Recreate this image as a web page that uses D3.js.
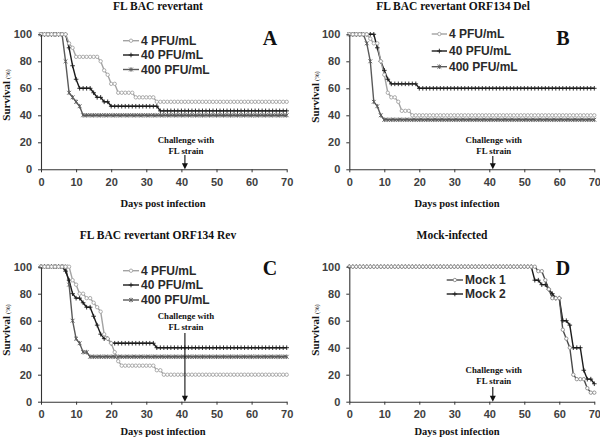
<!DOCTYPE html>
<html><head><meta charset="utf-8">
<script src="https://cdn.jsdelivr.net/npm/d3@7"></script>
<style>body{margin:0;background:#fff}svg{display:block}</style>
</head><body>
<svg id="c" width="600" height="439"></svg>
<script>
// ---------- data ----------
const days = d3.range(0, 71);
const xTicks = [0, 10, 20, 30, 40, 50, 60, 70];
const yTicks = [0, 20, 40, 60, 80, 100];
const challengeDay = 41;
const titles = ["FL BAC revertant", "FL BAC revertant ORF134 Del", "FL BAC revertant ORF134 Rev", "Mock-infected"];
const letters = ["A", "B", "C", "D"];
const doseNames = ["4 PFU/mL", "40 PFU/mL", "400 PFU/mL"];
const mockNames = ["Mock 1", "Mock 2"];
const challengeText = ["Challenge with", "FL strain"];
const xLabel = "Days post infection";

const a4 = [100,100,100,100,100,100,100,100,93.3,90,83.3,83.3,83.3,83.3,83.3,83.3,83.3,80,73.3,70,63.3,63.3,56.7,56.7,56.7,56.7,56.7,53.3,53.3,53.3,53.3,53.3,53.3,50,50,50,50,50,50,50,50,50,50,50,50,50,50,50,50,50,50,50,50,50,50,50,50,50,50,50,50,50,50,50,50,50,50,50,50,50,50];
const a40 = [100,100,100,100,100,100,100,100,90,76.7,66.7,60,60,60,60,56.7,53.3,53.3,50,50,46.7,46.7,46.7,46.7,46.7,46.7,46.7,46.7,46.7,46.7,46.7,46.7,46.7,46.7,43.3,43.3,43.3,43.3,43.3,43.3,43.3,43.3,43.3,43.3,43.3,43.3,43.3,43.3,43.3,43.3,43.3,43.3,43.3,43.3,43.3,43.3,43.3,43.3,43.3,43.3,43.3,43.3,43.3,43.3,43.3,43.3,43.3,43.3,43.3,43.3,43.3];
const a400 = [100,100,100,100,100,100,100,80,56.7,53.3,50,46.7,40,40,40,40,40,40,40,40,40,40,40,40,40,40,40,40,40,40,40,40,40,40,40,40,40,40,40,40,40,40,40,40,40,40,40,40,40,40,40,40,40,40,40,40,40,40,40,40,40,40,40,40,40,40,40,40,40,40,40];

const b4 = [100,100,100,100,100,100,96.7,93.3,93.3,80,70,56.7,53.3,53.3,50,43.3,43.3,43.3,40,40,40,40,40,40,40,40,40,40,40,40,40,40,40,40,40,40,40,40,40,40,40,40,40,40,40,40,40,40,40,40,40,40,40,40,40,40,40,40,40,40,40,40,40,40,40,40,40,40,40,40,40];
const b40 = [100,100,100,100,100,100,100,100,90,80,73.3,66.7,63.3,63.3,63.3,63.3,63.3,63.3,63.3,63.3,60,60,60,60,60,60,60,60,60,60,60,60,60,60,60,60,60,60,60,60,60,60,60,60,60,60,60,60,60,60,60,60,60,60,60,60,60,60,60,60,60,60,60,60,60,60,60,60,60,60,60];
const b400 = [100,100,100,100,100,93.3,80,50,46.7,40,36.7,36.7,36.7,36.7,36.7,36.7,36.7,36.7,36.7,36.7,36.7,36.7,36.7,36.7,36.7,36.7,36.7,36.7,36.7,36.7,36.7,36.7,36.7,36.7,36.7,36.7,36.7,36.7,36.7,36.7,36.7,36.7,36.7,36.7,36.7,36.7,36.7,36.7,36.7,36.7,36.7,36.7,36.7,36.7,36.7,36.7,36.7,36.7,36.7,36.7,36.7,36.7,36.7,36.7,36.7,36.7,36.7,36.7,36.7,36.7,36.7];

const c4 = [100,100,100,100,100,100,100,100,100,90,86.7,80,80,76.7,76.7,73.3,70,66.7,50,46.7,43.3,36.7,30,26.7,26.7,26.7,26.7,26.7,26.7,26.7,26.7,26.7,26.7,23.3,23.3,20,20,20,20,20,20,20,20,20,20,20,20,20,20,20,20,20,20,20,20,20,20,20,20,20,20,20,20,20,20,20,20,20,20,20,20];
const c40 = [100,100,100,100,100,100,100,96.7,90,80,76.7,76.7,73.3,70,70,63.3,56.7,50,46.7,46.7,43.3,43.3,43.3,43.3,43.3,43.3,43.3,43.3,43.3,43.3,43.3,43.3,43.3,40,40,40,40,40,40,40,40,40,40,40,40,40,40,40,40,40,40,40,40,40,40,40,40,40,40,40,40,40,40,40,40,40,40,40,40,40,40];
const c400 = [100,100,100,100,100,100,100,100,86.7,60,46.7,43.3,36.7,36.7,33.3,33.3,33.3,33.3,33.3,33.3,33.3,33.3,33.3,33.3,33.3,33.3,33.3,33.3,33.3,33.3,33.3,33.3,33.3,33.3,33.3,33.3,33.3,33.3,33.3,33.3,33.3,33.3,33.3,33.3,33.3,33.3,33.3,33.3,33.3,33.3,33.3,33.3,33.3,33.3,33.3,33.3,33.3,33.3,33.3,33.3,33.3,33.3,33.3,33.3,33.3,33.3,33.3,33.3,33.3,33.3,33.3];

const mock1 = [100,100,100,100,100,100,100,100,100,100,100,100,100,100,100,100,100,100,100,100,100,100,100,100,100,100,100,100,100,100,100,100,100,100,100,100,100,100,100,100,100,100,100,100,100,100,100,100,100,100,100,100,100,100,96.7,96.7,90,83.3,76.7,76.7,76.7,53.3,46.7,40,20,16.7,16.7,16.7,10,6.7,6.7];
const mock2 = [100,100,100,100,100,100,100,100,100,100,100,100,100,100,100,100,100,100,100,100,100,100,100,100,100,100,100,100,100,100,100,100,100,100,100,100,100,100,100,100,100,100,100,100,100,100,100,100,100,100,100,100,100,90,90,86.7,86.7,83.3,80,76.7,76.7,60,60,56.7,40,40,40,23.3,16.7,16.7,13.3];

// ---------- styles ----------
const styles = {
  circle: {stroke: "#a3a3a3", mark: "circle", mstroke: "#a3a3a3"},
  plus:   {stroke: "#1c1c1c", mark: "plus",   mstroke: "#1c1c1c"},
  star:   {stroke: "#5a5a5a", mark: "star",   mstroke: "#5a5a5a"},
  mock1:  {stroke: "#4a4a4a", mark: "circle", mstroke: "#8a8a8a"},
  mock2:  {stroke: "#1c1c1c", mark: "plus",   mstroke: "#1c1c1c"}
};

const panels = [
  {left:41, right:286.7, top:34.3, bottom:169.3, title:titles[0], titleX:158, titleY:10,
   letter:letters[0], letterX:270, letterY:45, xLabX:163, xLabY:206.5, yLabX:6, yLabY:95,
   legX1:123, legX2:139, legTextX:141, legRows:[40.7,55,69.5],
   annY:[143,153.5], arrTop:155,
   series:[{name:doseNames[0], v:a4, s:styles.circle},{name:doseNames[1], v:a40, s:styles.plus},{name:doseNames[2], v:a400, s:styles.star}]},
  {left:349.3, right:594.3, top:34.3, bottom:169.3, title:titles[1], titleX:453, titleY:10,
   letter:letters[1], letterX:563, letterY:45, xLabX:457, xLabY:206.5, yLabX:315, yLabY:97,
   legX1:431.7, legX2:447, legTextX:449, legRows:[34,51,66.7],
   annY:[143,153.5], arrTop:156,
   series:[{name:doseNames[0], v:b4, s:styles.circle},{name:doseNames[1], v:b40, s:styles.plus},{name:doseNames[2], v:b400, s:styles.star}]},
  {left:41, right:286.7, top:266.7, bottom:401.7, title:titles[2], titleX:158, titleY:239,
   letter:letters[2], letterX:270, letterY:275, xLabX:163, xLabY:435, yLabX:6, yLabY:330,
   legX1:123, legX2:139, legTextX:141, legRows:[270.7,285,300],
   annY:[319,329.5], arrTop:333,
   series:[{name:doseNames[0], v:c4, s:styles.circle},{name:doseNames[1], v:c40, s:styles.plus},{name:doseNames[2], v:c400, s:styles.star}]},
  {left:349.3, right:594.3, top:266.7, bottom:401.7, title:titles[3], titleX:452, titleY:239,
   letter:letters[3], letterX:563, letterY:275, xLabX:457, xLabY:435, yLabX:315, yLabY:330,
   legX1:446.7, legX2:463, legTextX:465, legRows:[280,294],
   annY:[373,384], arrTop:387,
   series:[{name:mockNames[0], v:mock1, s:styles.mock1},{name:mockNames[1], v:mock2, s:styles.mock2}]}
];

const svg = d3.select("#c");
const serif = "'Liberation Serif','Times New Roman',serif";
const sans = "'Liberation Sans',Arial,sans-serif";

function marker(g, type, cx, cy, st) {
  if (type === "circle") {
    g.append("circle").attr("cx", cx).attr("cy", cy).attr("r", 1.7)
      .attr("fill", "#fff").attr("stroke", st.mstroke).attr("stroke-width", 0.9);
  } else if (type === "plus") {
    g.append("path").attr("d", `M${cx-2.3},${cy}H${cx+2.3}M${cx},${cy-2.3}V${cy+2.3}`)
      .attr("stroke", st.mstroke).attr("stroke-width", 0.9).attr("fill", "none");
  } else {
    g.append("path").attr("d", `M${cx-1.9},${cy-1.9}L${cx+1.9},${cy+1.9}M${cx-1.9},${cy+1.9}L${cx+1.9},${cy-1.9}M${cx},${cy-2.3}V${cy+2.3}`)
      .attr("stroke", st.mstroke).attr("stroke-width", 0.9).attr("fill", "none");
  }
}

panels.forEach(p => {
  const x = d3.scaleLinear().domain([0, 70]).range([p.left, p.right]);
  const y = d3.scaleLinear().domain([0, 100]).range([p.bottom, p.top]);
  const g = svg.append("g");

  // title & letter
  g.append("text").attr("x", p.titleX).attr("y", p.titleY).attr("text-anchor", "middle")
    .attr("font-family", serif).attr("font-weight", "bold").attr("font-size", 11.5).attr("fill", "#111").text(p.title);
  g.append("text").attr("x", p.letterX).attr("y", p.letterY).attr("text-anchor", "middle")
    .attr("font-family", serif).attr("font-weight", "bold").attr("font-size", 20).attr("fill", "#111").text(p.letter);

  // series
  const line = d3.line().x((d, i) => x(days[i])).y(d => y(d));
  p.series.slice().reverse().forEach(s => {
    g.append("path").datum(s.v).attr("d", line).attr("fill", "none")
      .attr("stroke", s.s.stroke).attr("stroke-width", 1.4);
  });
  p.series.slice().reverse().forEach(s => {
    const mg = g.append("g");
    s.v.forEach((v, i) => marker(mg, s.s.mark, x(days[i]), y(v), s.s));
  });

  // axes
  const xa = g.append("g").attr("transform", `translate(0,${p.bottom})`)
    .call(d3.axisBottom(x).tickValues(xTicks).tickSize(3).tickSizeOuter(0).tickPadding(6));
  const ya = g.append("g").attr("transform", `translate(${p.left},0)`)
    .call(d3.axisLeft(y).tickValues(yTicks).tickSize(3).tickSizeOuter(0).tickPadding(6));
  [xa, ya].forEach(a => {
    a.select(".domain").attr("stroke", "#333").attr("stroke-width", 1.1);
    a.selectAll(".tick line").attr("stroke", "#333");
    a.selectAll(".tick text").attr("font-family", sans).attr("font-weight", "bold")
      .attr("font-size", 11).attr("fill", "#404040");
  });

  // axis labels
  g.append("text").attr("x", p.xLabX).attr("y", p.xLabY).attr("text-anchor", "middle")
    .attr("font-family", serif).attr("font-weight", "bold").attr("font-size", 10.5).attr("fill", "#111").text(xLabel);
  const yl = g.append("text").attr("transform", `translate(${p.yLabX + 3.5},${p.yLabY}) rotate(-90)`)
    .attr("text-anchor", "middle").attr("font-family", serif).attr("fill", "#111");
  yl.append("tspan").attr("font-weight", "bold").attr("font-size", 11).text("Survival");
  yl.append("tspan").attr("font-size", 6.5).attr("dx", 2).text("(%)");

  // legend
  p.series.forEach((s, i) => {
    const ry = p.legRows[i];
    g.append("line").attr("x1", p.legX1).attr("x2", p.legX2).attr("y1", ry).attr("y2", ry)
      .attr("stroke", s.s.stroke).attr("stroke-width", 1.4);
    marker(g, s.s.mark, (p.legX1 + p.legX2) / 2, ry, s.s);
    g.append("text").attr("x", p.legTextX).attr("y", ry).attr("dy", "0.36em")
      .attr("font-family", sans).attr("font-weight", "bold").attr("font-size", 12).attr("fill", "#2a2a2a").text(s.name);
  });

  // challenge annotation
  const cx = x(challengeDay);
  challengeText.forEach((t, i) => {
    g.append("text").attr("x", cx + 1).attr("y", p.annY[i]).attr("text-anchor", "middle")
      .attr("font-family", serif).attr("font-weight", "bold").attr("font-size", 8.8).attr("fill", "#111").text(t);
  });
  g.append("line").attr("x1", cx).attr("x2", cx).attr("y1", p.arrTop).attr("y2", p.bottom - 4)
    .attr("stroke", "#111").attr("stroke-width", 1.1);
  g.append("path").attr("d", `M${cx - 3},${p.bottom - 6}L${cx + 3},${p.bottom - 6}L${cx},${p.bottom}Z`).attr("fill", "#111");
});
</script>
</body></html>
